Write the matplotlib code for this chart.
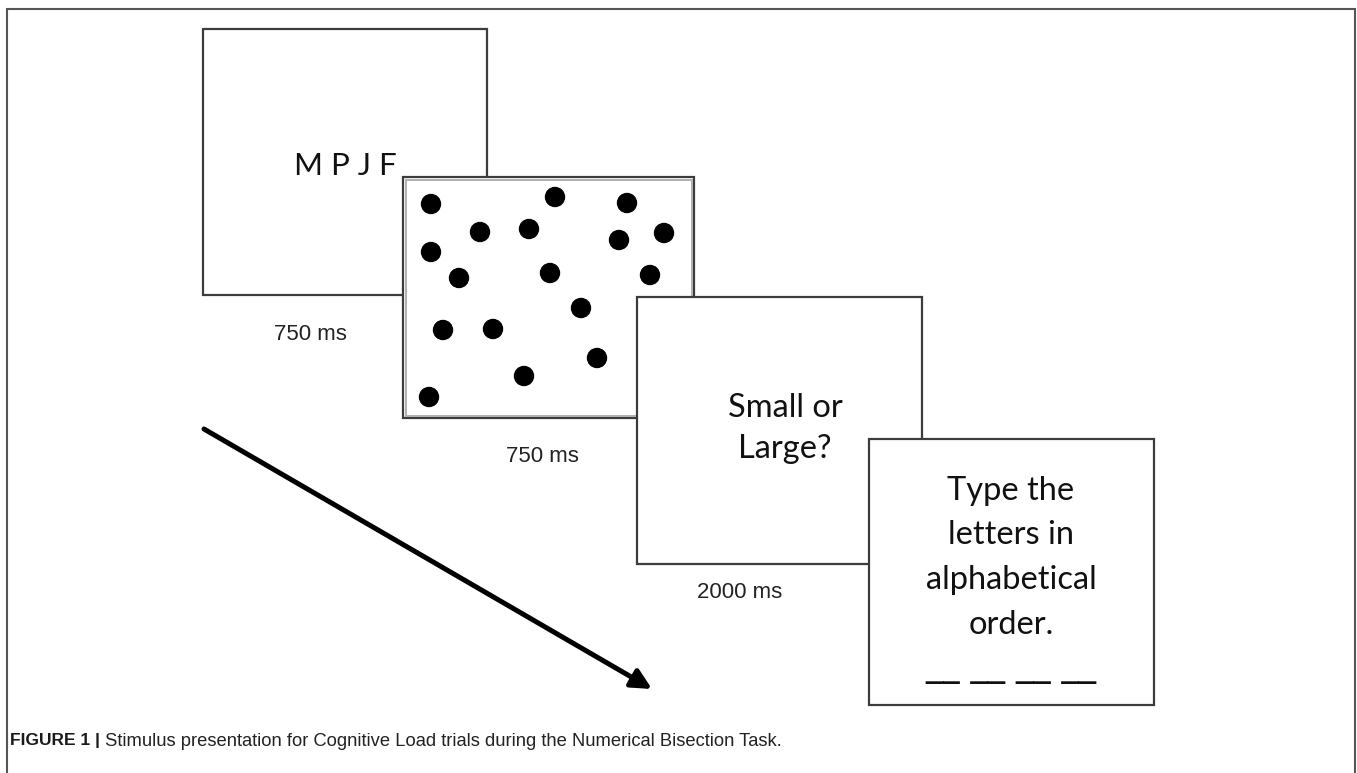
import matplotlib
matplotlib.use("Agg")
import matplotlib.pyplot as plt
from matplotlib.patches import Rectangle, Circle

W, H = 1357, 773

# screens: left, top, right, bottom (pixels in the figure)
boxes = [
    (203, 29, 487, 295),
    (403, 177, 694, 418),
    (637, 297, 922, 564),
    (869, 439, 1154, 705),
]

# dot centres on the numerosity screen
dot_x = [431, 555, 627, 480, 529, 619, 664, 431, 459, 550, 650, 581, 443, 493, 597, 524, 429]
dot_y = [204, 197, 203, 232, 229, 240, 233, 252, 278, 273, 275, 308, 330, 329, 358, 376, 397]
dot_r = 9.5

# screen texts
letters = "M P J F"
question = ["Small or", "Large?"]
instruction = ["Type the", "letters in", "alphabetical", "order."]
blanks = "__ __ __ __"

durations = ["750 ms", "750 ms", "2000 ms"]
duration_xy = [(310, 335), (542, 457), (740, 592)]

caption_bold = "FIGURE 1 |"
caption_text = " Stimulus presentation for Cognitive Load trials during the Numerical Bisection Task."

fig = plt.figure(figsize=(W / 100, H / 100), dpi=100)
ax = fig.add_axes([0, 0, 1, 1])
ax.set_xlim(0, W)
ax.set_ylim(H, 0)
ax.axis("off")

edge = "#3c3c3c"

# outer frame (open at the bottom)
ax.plot([7, 7, 1355, 1355], [H + 5, 9, 9, H + 5], color="#555555", lw=1.5,
        solid_joinstyle="miter", zorder=1)

for i, (l, t, r, b) in enumerate(boxes):
    z = 2 + i * 2
    ax.add_patch(Rectangle((l, t), r - l, b - t, facecolor="white",
                           edgecolor=edge, lw=1.6, zorder=z))
    if i == 1:
        # the dots screen has a soft grey inner border
        ax.add_patch(Rectangle((l + 2.5, t + 2.5), r - l - 5, b - t - 5,
                               facecolor="none", edgecolor="#b0b0b0", lw=1.4, zorder=z))

for x, y in zip(dot_x, dot_y):
    ax.add_patch(Circle((x, y), dot_r, color="black", zorder=4.5))

box_font = "Lato"
ax.text(345, 175, letters, fontsize=22.5, family=box_font, ha="center",
        va="baseline", color="#111111", zorder=3)

for k, line in enumerate(question):
    ax.text(785, 417 + k * 41, line, fontsize=23.5, family=box_font,
            ha="center", va="baseline", color="#111111", zorder=7)

for k, line in enumerate(instruction):
    ax.text(1011, 500 + k * 44.5, line, fontsize=23.5, family=box_font,
            ha="center", va="baseline", color="#111111", zorder=9)
# answer blanks (DejaVu underscores join into long dashes)
ax.text(1011, 676, blanks, fontsize=25, family="DejaVu Sans", ha="center",
        va="baseline", color="#111111", zorder=9)

for lab, (x, y) in zip(durations, duration_xy):
    ax.text(x, y, lab, fontsize=16, family="Liberation Sans", ha="center",
            va="center", color="#222222", zorder=10)

# time arrow
ax.annotate("", xy=(652, 689), xytext=(204, 429),
            arrowprops=dict(arrowstyle="-|>", lw=3.6, color="black",
                            mutation_scale=30, shrinkA=0, shrinkB=0),
            zorder=10)

t1 = ax.text(10, 741, caption_bold, fontsize=12.5, family="Liberation Sans",
             fontweight="bold", ha="left", va="center", color="#1a1a1a")
fig.canvas.draw()
bb = t1.get_window_extent()
x_end = ax.transData.inverted().transform((bb.x1, bb.y0))[0]
ax.text(x_end, 741, caption_text, fontsize=13.2, family="Liberation Sans",
        ha="left", va="center", color="#222222")

fig.savefig("out.png", dpi=100, facecolor="white")
